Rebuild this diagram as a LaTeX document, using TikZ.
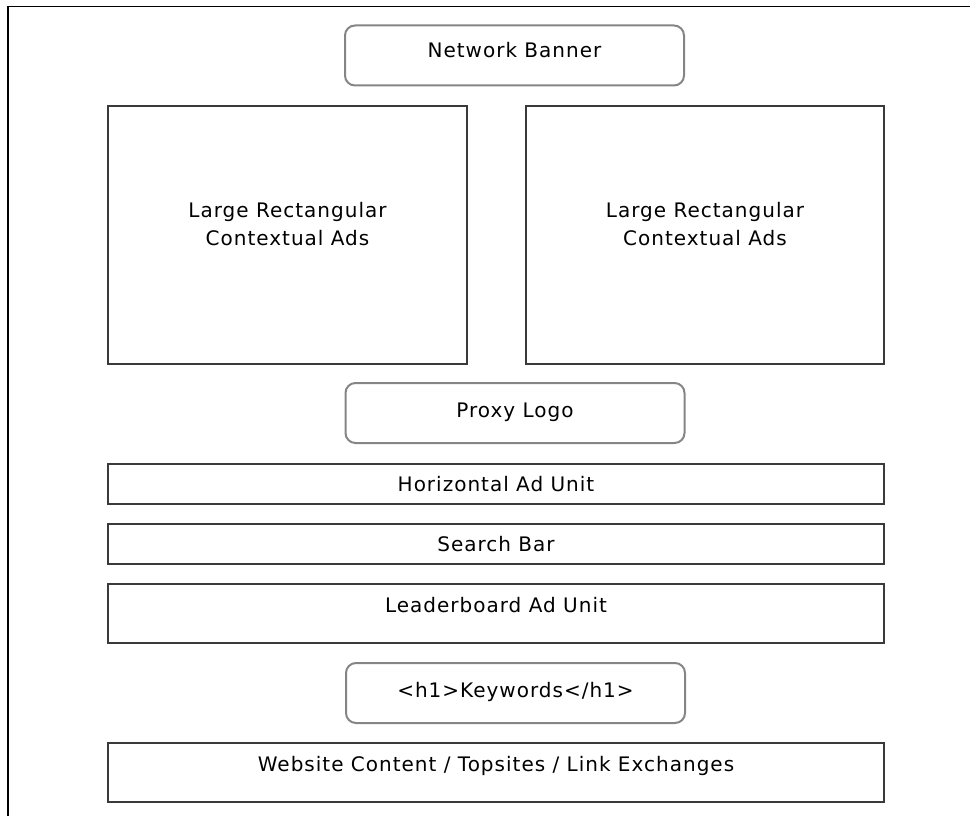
\documentclass[tikz,border=0pt]{standalone}
\usepackage{fontspec}
\setmainfont[LetterSpace=5]{DejaVu Sans}
\definecolor{boxline}{HTML}{3A3A3A}
\definecolor{roundline}{HTML}{858585}
\tikzset{
    % plain ad slot
    slot/.style={draw=boxline, line width=1.6pt, rectangle, inner sep=0pt,
        align=center, text height=14pt, text depth=#1},
    slot/.default=0pt,
    % rounded label box
    badge/.style={draw=roundline, line width=2pt, rounded corners=10pt,
        inner sep=0pt, align=center, text height=14pt, text depth=#1,
        minimum width=339pt, minimum height=60pt},
    badge/.default=0pt
}

\begin{document}
\begin{tikzpicture}[x=1pt, y=-1pt, font=\fontsize{20}{28}\selectfont]
    \useasboundingbox (0,0) rectangle (970,816);
    % page frame, cut by the edge of the shot
    \draw[line width=1.6pt, black] (8,816) -- (8,6.5) -- (970,6.5);

    \node[badge=10pt] (banner) at (514.5,55.5) {Network Banner};

    % the two big squares
    \node[slot, text height=20pt, minimum width=359pt, minimum height=258pt] (adleft) at (287.5,235)
        {Large Rectangular\\Contextual Ads};
    \node[slot, text height=20pt, minimum width=358pt, minimum height=258pt] (adright) at (705,235)
        {Large Rectangular\\Contextual Ads};

    \node[badge=6pt] (proxy) at (515,413) {Proxy Logo};

    % full width rows
    \node[slot, minimum width=776pt, minimum height=40pt] (horiz) at (496,484) {Horizontal Ad Unit};
    \node[slot, minimum width=776pt, minimum height=40pt] (search) at (496,544) {Search Bar};
    \node[slot=17pt, minimum width=776pt, minimum height=59pt] (leader) at (496,613.5) {Leaderboard Ad Unit};

    \node[badge=6pt] (keywords) at (515.5,693) {<h1>Keywords</h1>};

    \node[slot=17pt, minimum width=776pt, minimum height=59pt] (content) at (496,772.5)
        {Website Content / Topsites / Link Exchanges};
\end{tikzpicture}
\end{document}
